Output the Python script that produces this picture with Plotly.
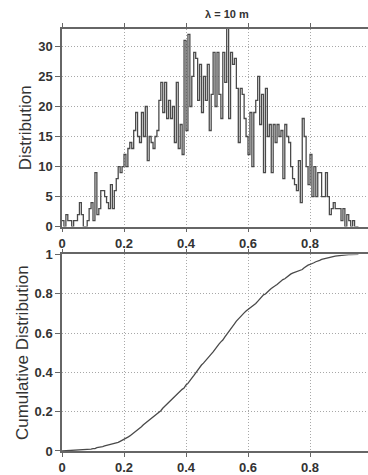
import numpy as np
import plotly.graph_objects as go
from plotly.subplots import make_subplots

bin_width = 0.00625
counts = [
    1, 0, 2, 1, 1, 0, 1, 1, 2, 4, 2, 0, 0, 1,
    3, 4, 1, 9, 2, 3, 6,
    6, 5, 4, 3, 7, 3, 6, 8, 10, 9, 10,
    12, 10, 13, 14, 13, 16, 19, 15,
    14, 19, 15, 20, 11, 15, 14, 13,
    15, 16, 21, 24, 19, 24, 18, 21,
    18, 20, 14, 24, 13, 17, 12, 31,
    16, 32, 20, 25, 29, 28, 21, 27,
    19, 25, 21, 27, 16, 22, 29, 20,
    29, 22, 18, 29, 24, 33, 18, 29,
    27, 28, 23, 14, 23, 22, 18, 15,
    12, 19, 10, 19, 21, 25, 17, 22,
    9, 23, 15, 17, 9, 17, 14, 17,
    15, 16, 8, 17, 15, 14, 10, 8,
    7, 6, 11, 4, 18, 15, 10, 7,
    12, 5, 10, 5, 9, 9, 5, 5,
    9, 5, 2, 3, 4, 3, 3, 3,
    1, 3, 0, 2, 1, 0, 1, 0,
    0,
]
x_ticks = [0, 0.2, 0.4, 0.6, 0.8]
x_tick_labels = ["0", "0.2", "0.4", "0.6", "0.8"]
y1_ticks = [0, 5, 10, 15, 20, 25, 30]
y2_ticks = [0, 0.2, 0.4, 0.6, 0.8, 1]
y2_tick_labels = ["0", "0.2", "0.4", "0.6", "0.8", "1"]
title_text = "λ = 10 m"

counts = np.array(counts, dtype=float)
edges = np.arange(len(counts) + 1) * bin_width
step_x = edges
step_y = np.append(counts, counts[-1])
cdf = np.concatenate([[0.0], np.cumsum(counts) / counts.sum()])

fig = make_subplots(rows=2, cols=1)
fig.add_trace(go.Scatter(x=step_x, y=step_y, mode="lines", line=dict(shape="hv", color="#4a4a4a", width=1.3),
                         showlegend=False), row=1, col=1)
fig.add_trace(go.Scatter(x=edges, y=cdf, mode="lines", line=dict(color="#4a4a4a", width=1.3),
                         showlegend=False), row=2, col=1)

W, H = 368, 475
ml, mr, mt, mb = 62, 0, 29, 21
ph = H - mt - mb
def frac(p):
    return (H - mb - p) / ph

tickfont = dict(family="Liberation Sans, Arial", size=13, color="#333333", weight="bold")
xr = [0, (W - ml) / 310.0]
common_x = dict(range=xr, tickvals=x_ticks, ticktext=x_tick_labels, showline=True, linecolor="#666666",
                linewidth=1.5, mirror="ticks", ticks="outside", ticklen=4, tickcolor="#666666",
                showgrid=True, gridcolor="#a8a8a8", griddash="1px,2px", gridwidth=1, zeroline=False,
                tickfont=tickfont)
fig.update_xaxes(**common_x, domain=[0, 1], row=1, col=1)
fig.update_xaxes(**common_x, domain=[0, 1], row=2, col=1)
common_y = dict(showline=True, linecolor="#666666", linewidth=1.5, ticks="outside", ticklen=5,
                tickcolor="#666666", showgrid=True, gridcolor="#a8a8a8", griddash="1px,2px", gridwidth=1,
                zeroline=False, tickfont=tickfont)
titlefont = dict(family="Liberation Sans, Arial", size=17, color="#333333")
fig.update_yaxes(**common_y, range=[0, 32.9], tickvals=y1_ticks, domain=[frac(228), frac(29)],
                 title=dict(text="Distribution", font=titlefont, standoff=2), row=1, col=1)
fig.update_yaxes(**common_y, range=[0, 1], tickvals=y2_ticks, ticktext=y2_tick_labels,
                 domain=[frac(454), frac(256)],
                 title=dict(text="Cumulative Distribution", font=titlefont, standoff=2),
                 row=2, col=1)

fig.add_annotation(text=title_text, x=(227 - ml) / (W - ml - mr), y=frac(22), xref="paper", yref="paper",
                   yanchor="bottom", showarrow=False,
                   font=dict(family="Liberation Sans, Arial", size=11, color="#333333", weight="bold"))

fig.update_layout(width=W, height=H, margin=dict(l=ml, r=mr, t=mt, b=mb), plot_bgcolor="white",
                  paper_bgcolor="white", showlegend=False)
fig.write_html("out.html")
